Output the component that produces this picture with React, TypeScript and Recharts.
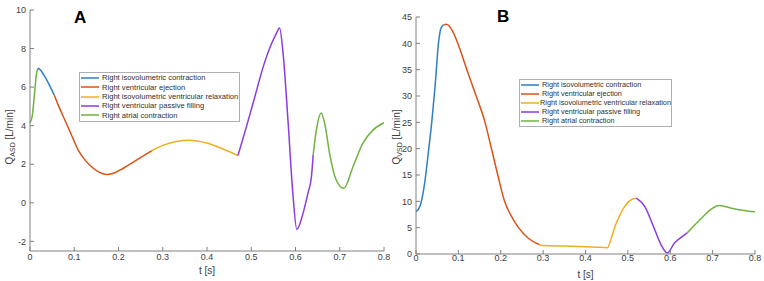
import { LineChart, Line, XAxis, YAxis } from "recharts";

// phase colours (MATLAB-like palette)
const phaseNames = [
  "Right isovolumetric contraction",
  "Right ventricular ejection",
  "Right isovolumetric ventricular relaxation",
  "Right ventricular passive filling",
  "Right atrial contraction",
];
const phaseColors = ["#2f7fc1", "#d95319", "#edb120", "#8b3be0", "#6fb33f"];

const tTicks = [0, 0.1, 0.2, 0.3, 0.4, 0.5, 0.6, 0.7, 0.8];
const asdTicks = [-2, 0, 2, 4, 6, 8, 10];
const vsdTicks = [0, 5, 10, 15, 20, 25, 30, 35, 40, 45];

// panel A: Q_ASD
const aAtrial1T = [0, 0.005, 0.01, 0.014, 0.018];
const aAtrial1Q = [4.15, 4.5, 5.6, 6.6, 6.98];
const aIsoContrT = [0.018, 0.025, 0.034, 0.045, 0.055];
const aIsoContrQ = [6.98, 6.85, 6.53, 6.05, 5.58];
const aEjectionT = [0.055, 0.065, 0.079, 0.095, 0.109, 0.125, 0.139, 0.155, 0.172, 0.19, 0.21, 0.233, 0.255, 0.275];
const aEjectionQ = [5.58, 5.0, 4.28, 3.45, 2.73, 2.2, 1.87, 1.6, 1.47, 1.55, 1.78, 2.1, 2.42, 2.7];
const aRelaxT = [0.275, 0.3, 0.33, 0.36, 0.4, 0.44, 0.47];
const aRelaxQ = [2.7, 2.98, 3.18, 3.25, 3.1, 2.75, 2.45];
const aFillingT = [0.47, 0.489, 0.508, 0.527, 0.546, 0.556, 0.564, 0.572, 0.583, 0.594, 0.603, 0.617, 0.628, 0.636, 0.64];
const aFillingQ = [2.45, 3.94, 5.49, 7.05, 8.26, 8.75, 9.07, 7.74, 4.28, 0.49, -1.38, -0.55, 0.49, 1.35, 2.5];
const aAtrial2T = [0.64, 0.648, 0.658, 0.667, 0.677, 0.692, 0.709, 0.73, 0.752, 0.775, 0.8];
const aAtrial2Q = [2.5, 3.9, 4.66, 4.0, 2.56, 1.18, 0.75, 1.87, 3.08, 3.77, 4.15];

// panel B: Q_VSD
const bIsoContrT = [0, 0.0094, 0.021, 0.029, 0.037, 0.045, 0.053, 0.059, 0.065];
const bIsoContrQ = [8.0, 9.05, 13.8, 19.2, 24.9, 31.8, 40, 42.9, 43.5];
const bEjectionT = [0.065, 0.072, 0.085, 0.1, 0.12, 0.142, 0.163, 0.178, 0.193, 0.209, 0.225, 0.242, 0.265, 0.29];
const bEjectionQ = [43.5, 43.6, 42.5, 39.7, 35, 30, 25, 20, 15, 10, 7.2, 5, 3, 1.8];
const bRelaxT = [0.29, 0.3, 0.35, 0.4, 0.44, 0.452, 0.46, 0.47, 0.48, 0.49, 0.5, 0.51, 0.52];
const bRelaxQ = [1.8, 1.6, 1.5, 1.4, 1.25, 1.2, 2.8, 5.3, 7.2, 8.7, 9.8, 10.4, 10.6];
const bFillingT = [0.52, 0.54, 0.56, 0.58, 0.593, 0.61, 0.625, 0.64];
const bFillingQ = [10.6, 9.0, 5.3, 1.5, 0.2, 2.1, 3.1, 4.0];
const bAtrialT = [0.64, 0.67, 0.7, 0.715, 0.74, 0.77, 0.8];
const bAtrialQ = [4.0, 6.5, 8.7, 9.2, 8.8, 8.3, 8.0];

const zip = (t: number[], q: number[]) => t.map((v, i) => ({ t: v, q: q[i] }));

const font = "'Liberation Sans', Arial, sans-serif";
const axisColor = "#808080";
const tickStyle = { fontSize: 9, fill: "#404040", fontFamily: font };

type Seg = { data: { t: number; q: number }[]; color: string };

const segsA: Seg[] = [
  { data: zip(aAtrial1T, aAtrial1Q), color: phaseColors[4] },
  { data: zip(aIsoContrT, aIsoContrQ), color: phaseColors[0] },
  { data: zip(aEjectionT, aEjectionQ), color: phaseColors[1] },
  { data: zip(aRelaxT, aRelaxQ), color: phaseColors[2] },
  { data: zip(aFillingT, aFillingQ), color: phaseColors[3] },
  { data: zip(aAtrial2T, aAtrial2Q), color: phaseColors[4] },
];
const segsB: Seg[] = [
  { data: zip(bIsoContrT, bIsoContrQ), color: phaseColors[0] },
  { data: zip(bEjectionT, bEjectionQ), color: phaseColors[1] },
  { data: zip(bRelaxT, bRelaxQ), color: phaseColors[2] },
  { data: zip(bFillingT, bFillingQ), color: phaseColors[3] },
  { data: zip(bAtrialT, bAtrialQ), color: phaseColors[4] },
];

// axis titles, drawn through the axis label slot
const XTitle = ({ viewBox, ty }: any) => (
  <text x={viewBox.x + viewBox.width / 2} y={ty} textAnchor="middle" fontSize={10} fill="#404040" fontFamily={font}>
    t [s]
  </text>
);
const YTitle = ({ tx, ty, sub }: any) => (
  <text transform={`translate(${tx},${ty}) rotate(-90)`} textAnchor="middle" fontSize={10} fill="#404040" fontFamily={font}>
    Q
    <tspan fontSize={7} dy={2}>{sub}</tspan>
    <tspan dy={-2}>{"  [L/min]"}</tspan>
  </text>
);

const LegendBox = ({ left, top, width, height, fontSize }: any) => (
  <div
    style={{
      position: "absolute", left, top, width, height, boxSizing: "border-box",
      border: "1px solid #b0b0b0", background: "#fff", fontFamily: font, fontSize, color: "#303030",
    }}
  >
    {phaseNames.map((n, i) => (
      <div key={n} style={{ display: "flex", alignItems: "center", height: (height - 2) / 5.1, whiteSpace: "nowrap" }}>
        <svg width={20} height={4} style={{ marginLeft: 1, marginRight: 1 }}>
          <line x1={0} y1={2} x2={18} y2={2} stroke={phaseColors[i]} strokeWidth={1.5} />
        </svg>
        <span>{n}</span>
      </div>
    ))}
  </div>
);

const Panel = ({ segs, width, margin, yWidth, xHeight, domain, ticks, sub, yTitleX, xTitleY, tickGap }: any) => (
  <LineChart width={width} height={281} margin={margin}>
    <XAxis
      type="number"
      dataKey="t"
      domain={[0, 0.8]}
      ticks={tTicks}
      height={xHeight}
      stroke={axisColor}
      tickSize={-4}
      tickMargin={tickGap}
      tick={tickStyle}
      tickFormatter={(v: number) => String(v)}
      label={<XTitle ty={xTitleY} />}
    />
    <YAxis
      type="number"
      domain={domain}
      ticks={ticks}
      width={yWidth}
      stroke={axisColor}
      tickSize={-4}
      tickMargin={8}
      tick={tickStyle}
      label={<YTitle tx={yTitleX} ty={137} sub={sub} />}
    />
    {segs.map((s: Seg, i: number) => (
      <Line
        key={i}
        data={s.data}
        dataKey="q"
        type="monotone"
        stroke={s.color}
        strokeWidth={1.5}
        dot={false}
        activeDot={false}
        isAnimationActive={false}
      />
    ))}
  </LineChart>
);

export default function App() {
  return (
    <div style={{ position: "fixed", left: 0, top: 0, width: 764, height: 281, background: "#fff", overflow: "hidden" }}>
      <div style={{ position: "absolute", left: 0, top: 0 }}>
        <Panel
          segs={segsA}
          width={390}
          margin={{ top: 10, right: 6, left: 0, bottom: 0 }}
          yWidth={30}
          xHeight={30}
          domain={[-2.5, 10]}
          ticks={asdTicks}
          sub="ASD"
          yTitleX={13}
          xTitleY={274}
          tickGap={7}
        />
      </div>
      <div style={{ position: "absolute", left: 385, top: 0 }}>
        <Panel
          segs={segsB}
          width={379}
          margin={{ top: 17, right: 9, left: 0, bottom: 0 }}
          yWidth={31}
          xHeight={27}
          domain={[0, 45]}
          ticks={vsdTicks}
          sub="VSD"
          yTitleX={15}
          xTitleY={278}
          tickGap={5}
        />
      </div>
      <div style={{ position: "absolute", left: 74, top: 8, fontFamily: font, fontWeight: "bold", fontSize: 17 }}>A</div>
      <div style={{ position: "absolute", left: 497, top: 7, fontFamily: font, fontWeight: "bold", fontSize: 17 }}>B</div>
      <LegendBox left={79} top={72} width={161} height={50} fontSize={7.6} />
      <LegendBox left={519} top={79} width={153} height={48} fontSize={7.3} />
    </div>
  );
}
